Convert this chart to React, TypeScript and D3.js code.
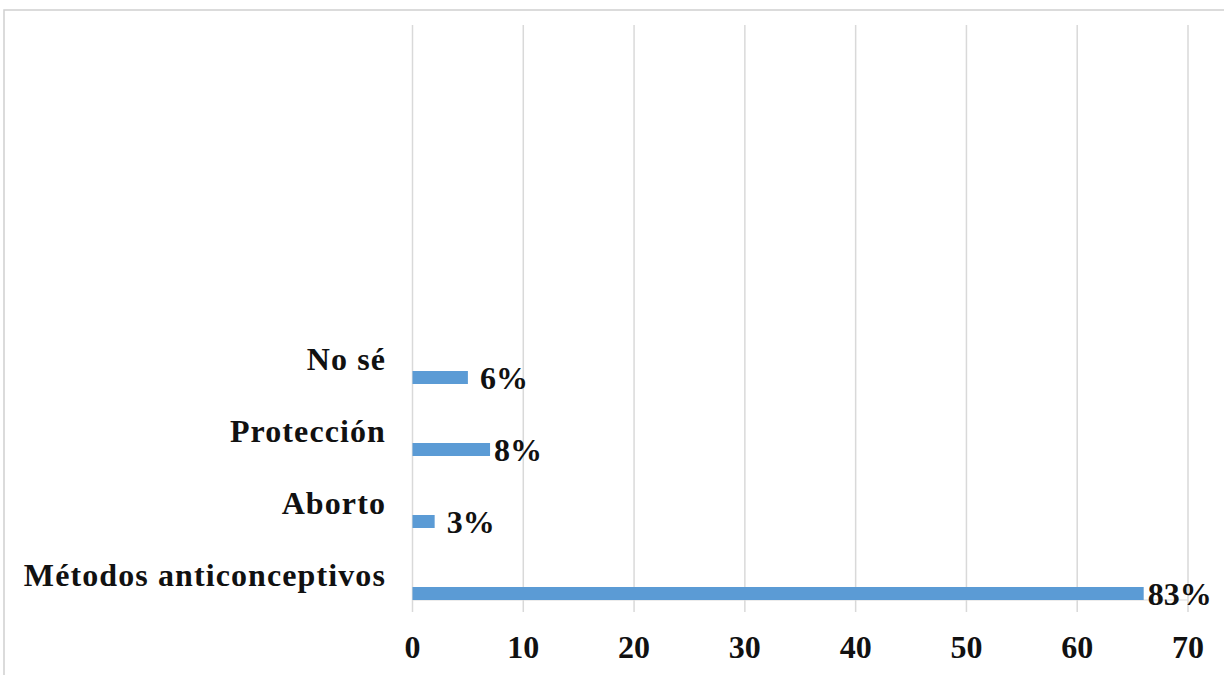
import React from "react";
import * as d3 from "d3";

const categories = ["Métodos anticonceptivos", "Aborto", "Protección", "No sé"];
const values = [66, 2, 7, 5];
const valueLabels = ["83%", " 3%", "8%", " 6%"];
const xTicks = [0, 10, 20, 30, 40, 50, 60, 70];
const slotCount = 8;

const W = 1224;
const H = 675;
const FONT = "'Liberation Serif', 'Times New Roman', serif";

export default function App() {
  const x = d3.scaleLinear().domain([0, 70]).range([412.5, 1188]);
  const y = d3.scaleBand<number>().domain(d3.range(slotCount)).range([600, 24]).padding(0);
  const bw = y.bandwidth();
  const barH = 13;
  const gridTop = 25;
  const axisY = 600;

  return (
    <svg
      width={W}
      height={H}
      style={{ position: "absolute", left: 0, top: 0, display: "block", background: "#fff" }}
    >
      <rect x={4} y={10} width={W + 10} height={H + 10} fill="#fff" stroke="#d0d0d0" strokeWidth={1.5} />
      {xTicks.map((t) => (
        <line key={"g" + t} x1={x(t)} x2={x(t)} y1={gridTop} y2={axisY + 12} stroke="#d9d9d9" strokeWidth={1.5} />
      ))}
      <line x1={x(0)} x2={x(70)} y1={axisY} y2={axisY} stroke="#d9d9d9" strokeWidth={1} />
      {xTicks.map((t) => (
        <text
          key={"t" + t}
          x={x(t)}
          y={658}
          textAnchor="middle"
          fontFamily={FONT}
          fontWeight="bold"
          fontSize={32}
          fill="#111"
        >
          {t}
        </text>
      ))}
      {categories.map((c, i) => {
        const bandEnd = (y(i) as number) + bw;
        return (
          <g key={c}>
            <rect x={x(0)} y={bandEnd - barH} width={x(values[i]) - x(0)} height={barH} fill="#5b9bd5" />
            <text
              x={386}
              y={bandEnd - 14}
              textAnchor="end"
              fontFamily={FONT}
              fontWeight="bold"
              fontSize={32}
              letterSpacing={1.1}
              fill="#111"
            >
              {c}
            </text>
            <text
              x={x(values[i]) + 4}
              y={bandEnd - barH / 2 + 11}
              fontFamily={FONT}
              fontWeight="bold"
              fontSize={32}
              fill="#111"
              style={{ whiteSpace: "pre" }}
            >
              {valueLabels[i]}
            </text>
          </g>
        );
      })}
    </svg>
  );
}
